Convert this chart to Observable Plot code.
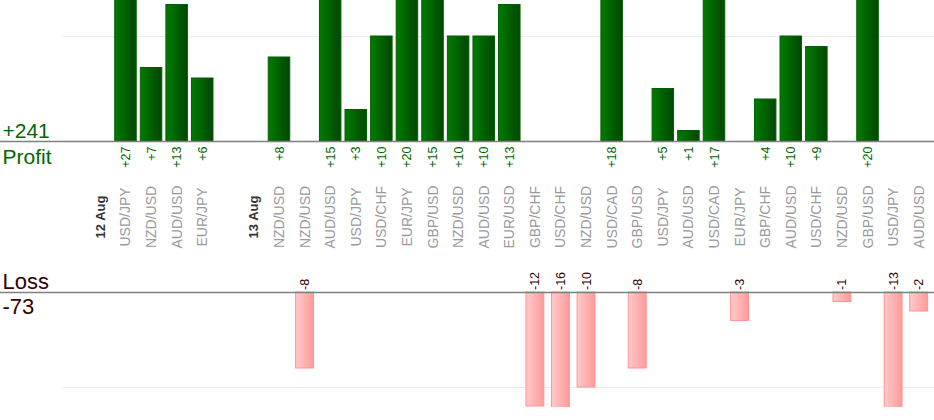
<!DOCTYPE html>
<html>
<head>
<meta charset="utf-8">
<script src="https://cdn.jsdelivr.net/npm/d3@7"></script>
<script src="https://cdn.jsdelivr.net/npm/@observablehq/plot@0.6"></script>
<style>
  html, body { margin: 0; padding: 0; background: #fff; }
  #chart svg { display: block; overflow: hidden; }
</style>
</head>
<body>
<div id="chart"></div>
<script>
// Slot labels (first slot is an empty spacer, "" = empty slot)
const categories = ["", "12 Aug", "USD/JPY", "NZD/USD", "AUD/USD", "EUR/JPY", "", "13 Aug",
  "NZD/USD", "NZD/USD", "AUD/USD", "USD/JPY", "USD/CHF", "EUR/JPY", "GBP/USD", "NZD/USD",
  "AUD/USD", "EUR/USD", "GBP/CHF", "USD/CHF", "NZD/USD", "USD/CAD", "GBP/USD", "USD/JPY",
  "AUD/USD", "USD/CAD", "EUR/JPY", "GBP/CHF", "AUD/USD", "USD/CHF", "NZD/USD", "GBP/USD",
  "USD/JPY", "AUD/USD"];
const dateHeaders = ["12 Aug", "13 Aug"];
const profit = [null, null, 27, 7, 13, 6, null, null,
  8, null, 15, 3, 10, 20, 15, 10,
  10, 13, null, null, null, 18, null, 5,
  1, 17, null, 4, 10, 9, null, 20,
  null, null];
const loss = [null, null, null, null, null, null, null, null,
  null, -8, null, null, null, null, null, null,
  null, null, -12, -16, -10, null, -8, null,
  null, null, -3, null, null, null, -1, null,
  -13, -2];

const slots = d3.range(categories.length);
const catData = slots.map(i => ({i, label: categories[i]})).filter(d => d.label !== "");
const pairData = catData.filter(d => !dateHeaders.includes(d.label));
const dateData = catData.filter(d => dateHeaders.includes(d.label));
const profitData = slots.filter(i => profit[i] != null).map(i => ({i, v: profit[i]}));
const lossData = slots.filter(i => loss[i] != null).map(i => ({i, v: loss[i]}));
const totalProfit = d3.sum(profitData, d => d.v);
const totalLoss = d3.sum(lossData, d => d.v);

const W = 934;
const font = "'Liberation Sans', Arial, sans-serif";
const green = "#006600";
const brown = "#330000";

function gradient(id, c0, c1) {
  return () => {
    const defs = document.createElementNS("http://www.w3.org/2000/svg", "defs");
    defs.innerHTML = `<linearGradient id="${id}" x1="0" x2="1" y1="0" y2="0">
      <stop offset="0" stop-color="${c0}"/><stop offset="1" stop-color="${c1}"/></linearGradient>`;
    return defs;
  };
}

const profitPlot = Plot.plot({
  width: W, height: 260,
  marginTop: 0, marginBottom: 0, marginLeft: 0, marginRight: 0,
  style: {fontFamily: font, background: "#fff"},
  x: {type: "band", domain: slots, range: [61.5, 931.5], paddingInner: 0.16, paddingOuter: 0.08, round: false, axis: null},
  y: {domain: [0, 10], range: [141, 36], axis: null},
  marks: [
    gradient("gprofit", "#007c00", "#004600"),
    Plot.ruleY([10], {stroke: "#ebebeb", insetLeft: 63}),
    Plot.barY(profitData, {x: "i", y: "v", fill: "url(#gprofit)", stroke: "#006000", strokeWidth: 1, clip: true}),
    Plot.ruleY([0], {stroke: "#808080", strokeWidth: 1.5}),
    Plot.text(profitData, {x: "i", y: 0, dy: 5, text: d => "+" + d.v, rotate: -90, textAnchor: "end",
      fill: green, fontSize: 12.5}),
    Plot.text(pairData, {x: "i", y: 0, dy: 75.5, text: "label", rotate: -90, textAnchor: "middle",
      fill: "#9a9a9a", fontSize: 14}),
    Plot.text(dateData, {x: "i", y: 0, dy: 75.5, text: "label", rotate: -90, textAnchor: "middle",
      fill: "#333", fontSize: 13, fontWeight: "bold"}),
    Plot.text([totalProfit], {frameAnchor: "left", y: 0, dy: -3.5, dx: 2, text: d => "+" + d,
      textAnchor: "start", lineAnchor: "bottom", fill: green, fontSize: 21}),
    Plot.text(["Profit"], {frameAnchor: "left", y: 0, dy: 22, dx: 2, text: d => d,
      textAnchor: "start", lineAnchor: "bottom", fill: green, fontSize: 21})
  ]
});

const lossPlot = Plot.plot({
  width: W, height: 160,
  marginTop: 0, marginBottom: 13, marginLeft: 0, marginRight: 0,
  style: {fontFamily: font, background: "#fff"},
  x: {type: "band", domain: slots, range: [61.5, 931.5], paddingInner: 0.3, paddingOuter: 0.15, round: false, axis: null},
  y: {domain: [0, -10], range: [32, 127], axis: null},
  marks: [
    gradient("gloss", "#ffcaca", "#ff9a9a"),
    Plot.ruleY([-10], {stroke: "#ebebeb", insetLeft: 63}),
    Plot.barY(lossData, {x: "i", y: "v", fill: "url(#gloss)", stroke: "#ff9494", strokeWidth: 1, clip: true}),
    Plot.ruleY([0], {stroke: "#808080", strokeWidth: 1.5}),
    Plot.text(lossData, {x: "i", y: 0, dy: -2.5, text: d => String(d.v), rotate: -90, textAnchor: "start",
      fill: brown, fontSize: 12.5}),
    Plot.text(["Loss"], {frameAnchor: "left", y: 0, dy: -3.5, dx: 2, text: d => d,
      textAnchor: "start", lineAnchor: "bottom", fill: brown, fontSize: 22}),
    Plot.text([totalLoss], {frameAnchor: "left", y: 0, dy: 21.5, dx: 2, text: d => String(d),
      textAnchor: "start", lineAnchor: "bottom", fill: brown, fontSize: 22})
  ]
});

document.getElementById("chart").append(profitPlot, lossPlot);
</script>
</body>
</html>
